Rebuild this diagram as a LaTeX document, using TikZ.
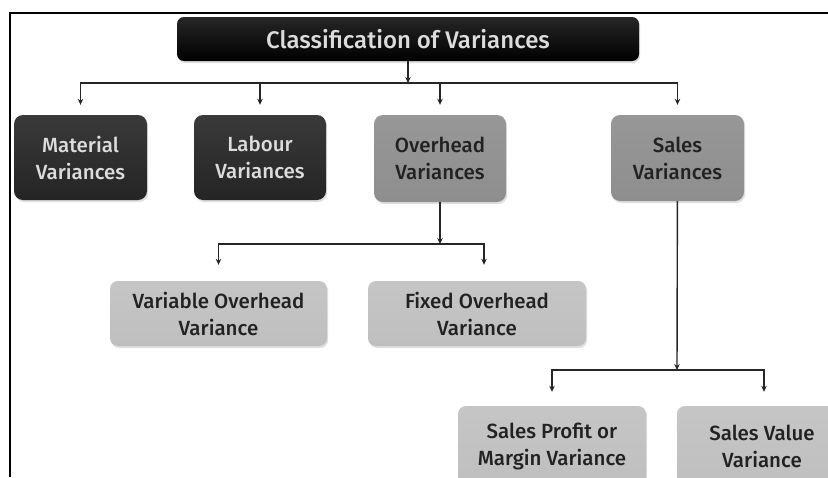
\documentclass[tikz,border=0pt]{standalone}
\usepackage{fontspec}
\setmainfont{Fira Sans Medium}
\usetikzlibrary{arrows.meta,shadows}
\definecolor{linkgray}{HTML}{262626}
\definecolor{darkbox}{HTML}{242424}
\definecolor{midbox}{HTML}{8E8E8E}
\definecolor{lightbox}{HTML}{BFBFBF}
\definecolor{lighttext}{HTML}{DCDCDC}
\definecolor{darktext}{HTML}{222222}
\tikzset{
  box/.style={rounded corners=9pt, inner sep=0pt, align=center,
    font=\fontsize{20.5}{27}\selectfont,
    drop shadow={opacity=0.25, shadow xshift=1.2pt, shadow yshift=-2pt}},
  titlebox/.style={box, rounded corners=7pt, top color=black!85, bottom color=black,
    text=lighttext, font=\fontsize{24}{28}\selectfont},
  darkcat/.style={box, top color=darkbox!90!white, bottom color=darkbox, text=lighttext},
  midcat/.style={box, top color=midbox!92!white, bottom color=midbox, text=darktext},
  subcat/.style={box, rounded corners=8pt, top color=lightbox!90!white, bottom color=lightbox, text=darktext},
  link/.style={draw=linkgray, line width=1.4pt, -{Stealth[length=6pt,width=5.5pt]}},
  frame/.style={draw=black, line width=1.3pt}
}
\begin{document}
\begin{tikzpicture}[x=1pt,y=-1pt]
\useasboundingbox (0,0) rectangle (828,477);
\fill[white] (0,0) rectangle (828,477);

% outer frame lines
\draw[frame] (10,477) -- (10,13) -- (828,13);

% title
\node[titlebox, minimum width=462pt, minimum height=44pt] (title) at (408,39) {Classification of Variances};

% first level
\node[darkcat, minimum width=133pt, minimum height=85pt] (mat) at (80.5,157.5) {Material\\Variances};
\node[darkcat, minimum width=132pt, minimum height=85pt] (lab) at (260,157.5) {Labour\\Variances};
\node[midcat, minimum width=132pt, minimum height=87pt] (ovh) at (440,158.5) {Overhead\\Variances};
\node[midcat, minimum width=133pt, minimum height=86pt] (sal) at (677.5,158) {Sales\\Variances};

% overhead sub-variances
\node[subcat, minimum width=217pt, minimum height=65pt] (var) at (218.5,313.5) {Variable Overhead\\Variance};
\node[subcat, minimum width=218pt, minimum height=65pt] (fix) at (477,313.5) {Fixed Overhead\\Variance};

% sales sub-variances
\node[subcat, minimum width=188pt, minimum height=80pt] (pro) at (552,446) {Sales Profit or\\Margin Variance};
\node[subcat, minimum width=170pt, minimum height=80pt] (val) at (762,446) {Sales Value\\Variance};

% junction points
\coordinate (j1) at (408,83);
\coordinate (j2) at (440,244);
\coordinate (j3) at (677,370);

% connectors
\draw[link] (title) -- (j1);
\foreach \n in {mat,lab,ovh,sal}
  \draw[link, shorten >=10pt] (j1) -| (\n);

\draw[link] (ovh) -- (j2);
\draw[link, shorten >=16pt] (j2) -| (var);
\draw[link, shorten >=16pt] (j2) -| ([xshift=7pt]fix.north);

\draw[link] (sal) -- (j3);
\draw[link, shorten >=14pt] (j3) -| (pro);
\draw[link, shorten >=14pt] (j3) -| ([xshift=2pt]val.north);
\end{tikzpicture}
\end{document}
